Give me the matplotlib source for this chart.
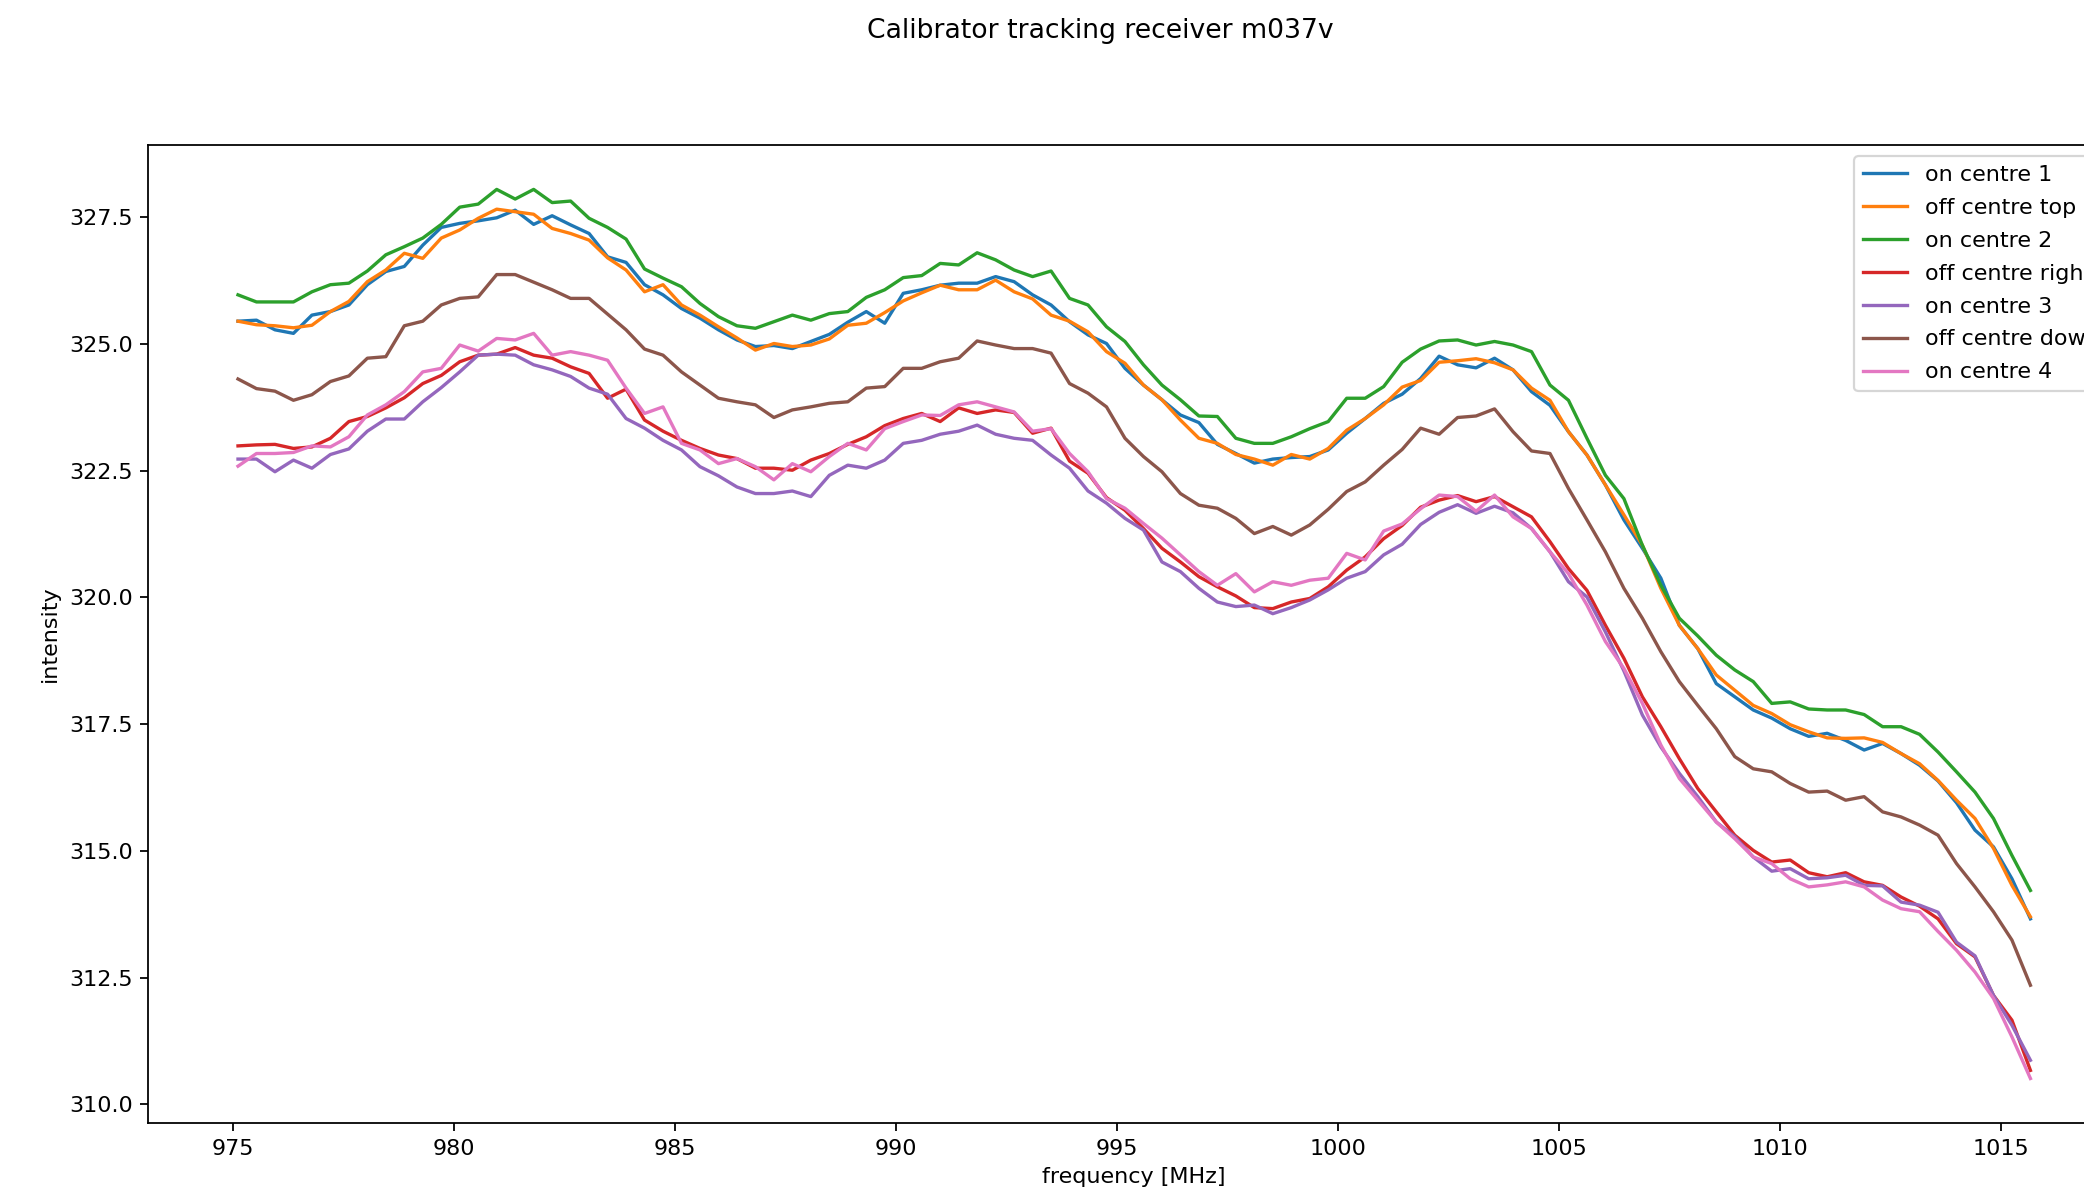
import numpy as np
import matplotlib
matplotlib.use("Agg")
import matplotlib.pyplot as plt

# Channel frequencies (every second channel of the band segment), MHz
freq_mhz = np.linspace(975.12, 1015.66, 98)

on_centre_1 = [
    325.45, 325.47, 325.28, 325.21, 325.57, 325.64, 325.77, 326.17, 326.43, 326.53,
    326.95, 327.30, 327.38, 327.43, 327.49, 327.64, 327.36, 327.53, 327.35, 327.18,
    326.72, 326.61, 326.17, 325.97, 325.70, 325.51, 325.28, 325.08, 324.95, 324.97,
    324.91, 325.05, 325.19, 325.43, 325.64, 325.41, 326.00, 326.07, 326.16, 326.20,
    326.20, 326.33, 326.23, 325.97, 325.77, 325.44, 325.18, 325.01, 324.52, 324.19,
    323.90, 323.60, 323.45, 323.02, 322.84, 322.65, 322.73, 322.76, 322.78, 322.91,
    323.24, 323.53, 323.83, 324.01, 324.32, 324.76, 324.59, 324.53, 324.72, 324.49,
    324.06, 323.79, 323.27, 322.81, 322.22, 321.53, 320.97, 320.38, 319.45, 318.99,
    318.30, 318.04, 317.78, 317.62, 317.41, 317.26, 317.32, 317.18, 316.99, 317.12,
    316.92, 316.69, 316.38, 315.95, 315.41, 315.08, 314.45, 313.66,
]

off_centre_top = [
    325.45, 325.38, 325.36, 325.32, 325.37, 325.64, 325.84, 326.23, 326.46, 326.79,
    326.69, 327.09, 327.25, 327.48, 327.66, 327.61, 327.56, 327.28, 327.18, 327.05,
    326.70, 326.46, 326.03, 326.17, 325.77, 325.57, 325.34, 325.12, 324.88, 325.01,
    324.95, 324.98, 325.10, 325.37, 325.41, 325.62, 325.85, 326.01, 326.16, 326.07,
    326.07, 326.26, 326.03, 325.89, 325.57, 325.45, 325.24, 324.85, 324.62, 324.19,
    323.90, 323.50, 323.14, 323.04, 322.82, 322.73, 322.61, 322.82, 322.73, 322.94,
    323.30, 323.53, 323.80, 324.15, 324.28, 324.64, 324.67, 324.71, 324.63, 324.49,
    324.13, 323.89, 323.27, 322.81, 322.22, 321.63, 321.03, 320.18, 319.45, 318.99,
    318.47, 318.17, 317.87, 317.71, 317.49, 317.35, 317.23, 317.22, 317.23, 317.14,
    316.92, 316.72, 316.39, 316.00, 315.64, 315.05, 314.32, 313.70,
]

on_centre_2 = [
    325.97, 325.83, 325.83, 325.83, 326.03, 326.17, 326.20, 326.44, 326.76, 326.92,
    327.09, 327.36, 327.70, 327.76, 328.05, 327.86, 328.05, 327.79, 327.82, 327.48,
    327.30, 327.07, 326.48, 326.30, 326.13, 325.80, 325.54, 325.36, 325.31, 325.44,
    325.57, 325.47, 325.60, 325.64, 325.92, 326.07, 326.31, 326.35, 326.59, 326.56,
    326.80, 326.66, 326.46, 326.33, 326.44, 325.90, 325.77, 325.34, 325.05, 324.59,
    324.19, 323.90, 323.58, 323.57, 323.14, 323.04, 323.04, 323.17, 323.33, 323.47,
    323.93, 323.93, 324.16, 324.64, 324.90, 325.06, 325.08, 324.98, 325.05, 324.98,
    324.85, 324.19, 323.89, 323.14, 322.41, 321.95, 321.03, 320.24, 319.59, 319.24,
    318.86, 318.57, 318.34, 317.91, 317.94, 317.80, 317.78, 317.78, 317.69, 317.45,
    317.45, 317.30, 316.95, 316.56, 316.16, 315.64, 314.91, 314.22,
]

off_centre_right = [
    322.99, 323.01, 323.02, 322.94, 322.97, 323.14, 323.47, 323.57, 323.74, 323.94,
    324.22, 324.38, 324.65, 324.78, 324.80, 324.93, 324.78, 324.72, 324.55, 324.42,
    323.93, 324.11, 323.50, 323.28, 323.10, 322.94, 322.81, 322.74, 322.55, 322.55,
    322.51, 322.71, 322.84, 323.02, 323.17, 323.39, 323.53, 323.63, 323.47, 323.74,
    323.63, 323.70, 323.65, 323.24, 323.34, 322.69, 322.45, 321.97, 321.72, 321.36,
    320.97, 320.70, 320.41, 320.21, 320.03, 319.80, 319.78, 319.91, 319.98, 320.21,
    320.54, 320.80, 321.16, 321.42, 321.78, 321.92, 322.01, 321.89, 321.99, 321.79,
    321.59, 321.10, 320.57, 320.14, 319.45, 318.80, 318.04, 317.45, 316.82, 316.23,
    315.77, 315.31, 315.01, 314.78, 314.82, 314.57, 314.49, 314.57, 314.39, 314.32,
    314.09, 313.91, 313.66, 313.17, 312.91, 312.15, 311.66, 310.67,
]

on_centre_3 = [
    322.73, 322.73, 322.48, 322.71, 322.55, 322.82, 322.93, 323.28, 323.52, 323.52,
    323.86, 324.14, 324.45, 324.78, 324.80, 324.78, 324.59, 324.49, 324.36, 324.13,
    324.01, 323.53, 323.34, 323.10, 322.91, 322.58, 322.40, 322.18, 322.05, 322.05,
    322.10, 321.99, 322.41, 322.61, 322.55, 322.71, 323.04, 323.10, 323.22, 323.28,
    323.40, 323.22, 323.14, 323.10, 322.81, 322.55, 322.10, 321.86, 321.56, 321.33,
    320.70, 320.51, 320.18, 319.91, 319.82, 319.85, 319.68, 319.80, 319.95, 320.15,
    320.38, 320.51, 320.84, 321.05, 321.44, 321.68, 321.83, 321.66, 321.80, 321.67,
    321.36, 320.90, 320.31, 320.01, 319.32, 318.55, 317.68, 317.05, 316.53, 316.07,
    315.57, 315.28, 314.88, 314.60, 314.65, 314.45, 314.47, 314.52, 314.32, 314.31,
    313.99, 313.93, 313.79, 313.20, 312.93, 312.15, 311.56, 310.87,
]

off_centre_down = [
    324.31, 324.12, 324.07, 323.89, 324.00, 324.26, 324.37, 324.72, 324.75, 325.36,
    325.45, 325.77, 325.90, 325.93, 326.37, 326.37, 326.22, 326.07, 325.90, 325.90,
    325.59, 325.28, 324.90, 324.78, 324.45, 324.19, 323.93, 323.86, 323.80, 323.55,
    323.70, 323.76, 323.83, 323.86, 324.13, 324.16, 324.52, 324.52, 324.65, 324.72,
    325.06, 324.98, 324.91, 324.91, 324.82, 324.22, 324.03, 323.76, 323.14, 322.78,
    322.48, 322.05, 321.82, 321.76, 321.56, 321.26, 321.40, 321.23, 321.43, 321.74,
    322.09, 322.28, 322.61, 322.92, 323.34, 323.22, 323.55, 323.58, 323.72, 323.27,
    322.89, 322.84, 322.15, 321.53, 320.90, 320.18, 319.59, 318.93, 318.34, 317.87,
    317.41, 316.86, 316.62, 316.56, 316.33, 316.16, 316.18, 316.00, 316.07, 315.77,
    315.67, 315.51, 315.31, 314.75, 314.29, 313.80, 313.24, 312.35,
]

on_centre_4 = [
    322.59, 322.84, 322.84, 322.86, 322.99, 322.97, 323.17, 323.60, 323.80, 324.06,
    324.45, 324.52, 324.98, 324.86, 325.11, 325.08, 325.21, 324.78, 324.85, 324.78,
    324.68, 324.13, 323.63, 323.76, 323.04, 322.91, 322.64, 322.74, 322.58, 322.32,
    322.64, 322.48, 322.78, 323.04, 322.91, 323.33, 323.47, 323.60, 323.59, 323.80,
    323.86, 323.76, 323.66, 323.28, 323.33, 322.84, 322.48, 321.95, 321.76, 321.46,
    321.17, 320.84, 320.51, 320.24, 320.47, 320.11, 320.31, 320.24, 320.34, 320.38,
    320.87, 320.74, 321.31, 321.45, 321.75, 322.02, 321.99, 321.70, 322.02, 321.59,
    321.36, 320.90, 320.47, 319.85, 319.13, 318.60, 317.91, 317.09, 316.43, 316.00,
    315.57, 315.24, 314.88, 314.75, 314.45, 314.29, 314.33, 314.39, 314.29, 314.03,
    313.86, 313.80, 313.41, 313.04, 312.61, 312.09, 311.33, 310.51,
]

series_labels = [
    "on centre 1", "off centre top", "on centre 2", "off centre right",
    "on centre 3", "off centre down", "on centre 4",
]
series_values = [
    on_centre_1, off_centre_top, on_centre_2, off_centre_right,
    on_centre_3, off_centre_down, on_centre_4,
]

fig = plt.figure(figsize=(2084 / 160, 1194 / 160), dpi=160)
ax = fig.add_axes([0.0712, 0.0595, 0.9461, 0.8191])

for label, values in zip(series_labels, series_values):
    ax.plot(freq_mhz, values, label=label)

ax.set_xlabel("frequency [MHz]")
ax.set_ylabel("intensity")
ax.legend(loc="upper right", labelspacing=0.58)
fig.suptitle("Calibrator tracking receiver m037v", x=0.528, y=0.985)

fig.savefig("out.png", dpi=160)
